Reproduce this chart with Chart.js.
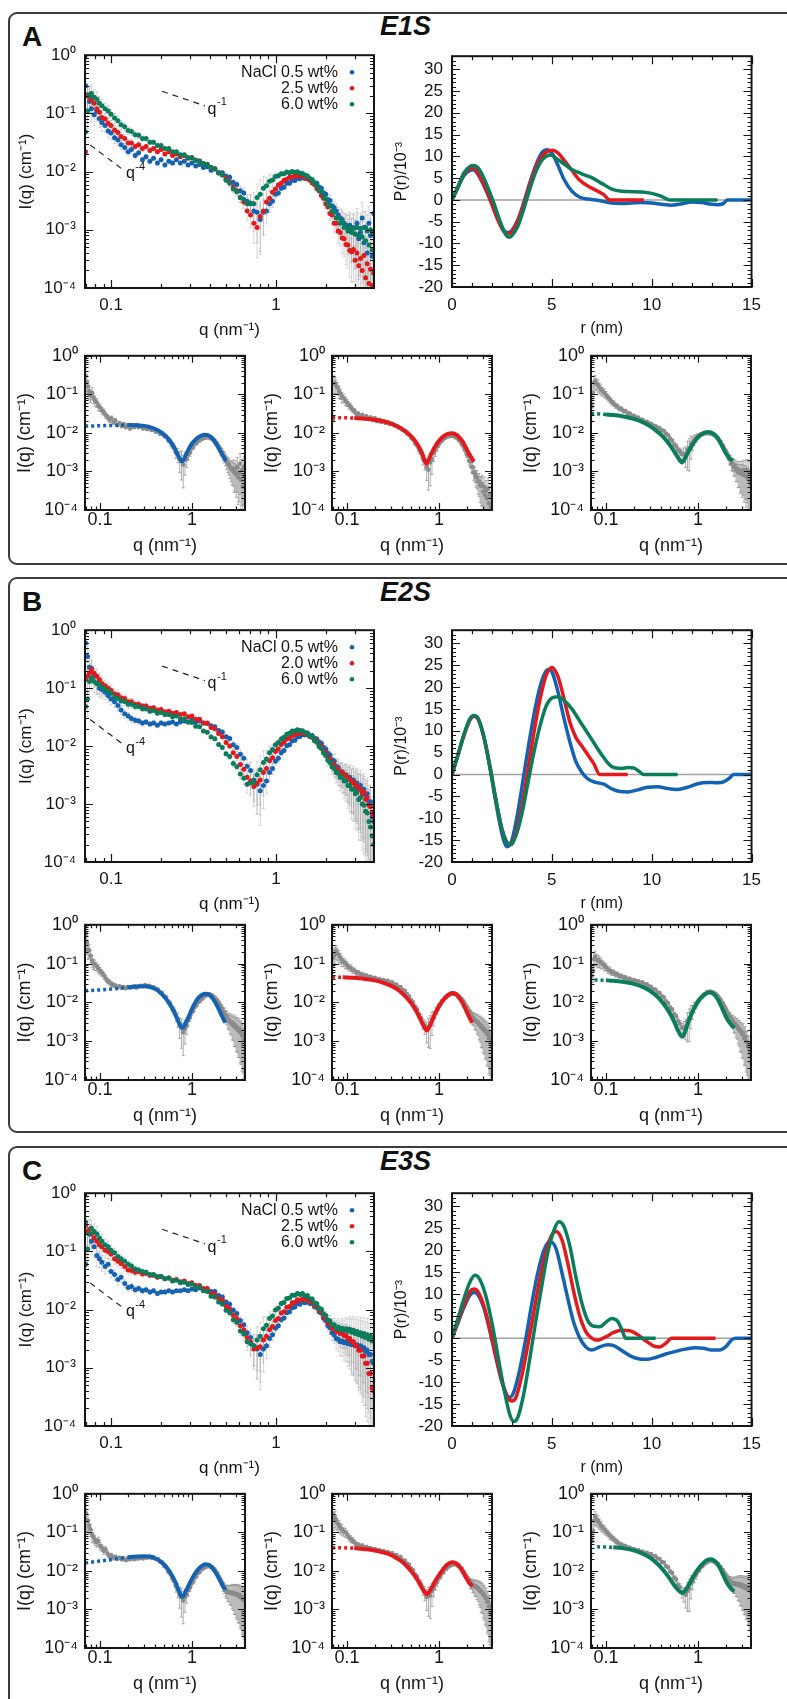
<!DOCTYPE html>
<html>
<head>
<meta charset="utf-8">
<title>SAXS profiles and P(r) of E1S, E2S, E3S</title>
<script src="https://cdn.jsdelivr.net/npm/chart.js@4.4.1/dist/chart.umd.min.js"></script>
<style>
  body { margin: 0; background: #fff; }
  #page { position: relative; width: 787px; height: 1699px; overflow: hidden; font-family: 'Liberation Sans', Arial, sans-serif; color: #111; }
  .panel { position: absolute; left: 8px; width: 800px; border: 2px solid #3c3c3c; border-radius: 9px; box-sizing: border-box; }
  .tag { position: absolute; left: 22px; font-size: 28px; font-weight: bold; line-height: 1; }
  .name { position: absolute; left: 380px; font-size: 27px; font-weight: bold; font-style: italic; line-height: 1; }
  canvas { position: absolute; }
</style>
</head>
<body>
<div id="page">
  <div class="panel" style="top:12px;height:553px"></div>
  <div class="panel" style="top:577px;height:556px"></div>
  <div class="panel" style="top:1146px;height:600px"></div>
  <div class="tag" style="top:23px">A</div>
  <div class="name" style="top:13px">E1S</div>
  <div class="tag" style="top:588px">B</div>
  <div class="name" style="top:579px">E2S</div>
  <div class="tag" style="top:1157px">C</div>
  <div class="name" style="top:1148px">E3S</div>
</div>
<script>
// scattering vector grid shared by all measured curves (nm^-1)
const qGrid = [0.070,0.072,0.074,0.076,0.079,0.082,0.085,0.088,0.092,0.096,
  0.100,0.105,0.110,0.115,0.121,0.127,0.133,0.140,0.147,0.155,
  0.163,0.172,0.181,0.191,0.201,0.212,0.224,0.236,0.249,0.263,
  0.278,0.293,0.309,0.326,0.344,0.363,0.383,0.404,0.426,0.449,
  0.473,0.498,0.524,0.551,0.579,0.608,0.638,0.669,0.701,0.734,
  0.768,0.803,0.839,0.876,0.914,0.953,0.993,1.034,1.076,1.119,
  1.163,1.208,1.254,1.301,1.349,1.398,1.448,1.499,1.551,1.604,
  1.658,1.713,1.769,1.826,1.884,1.943,2.003,2.064,2.126,2.189,
  2.253,2.318,2.384,2.451,2.519,2.588,2.658,2.729,2.801,2.874,
  2.948,3.023,3.099,3.176,3.254,3.333,3.413,3.494,3.576,3.659,
  3.743,3.828,3.914];

// relative error of I(q) at each grid point
const relErr = [0.6,0.5,0.45,0.4,0.35,0.35,0.3,0.3,0.25,0.25,
  0.22,0.2,0.2,0.18,0.16,0.15,0.14,0.13,0.12,0.11,
  0.1,0.09,0.09,0.08,0.08,0.07,0.07,0.07,0.06,0.06,
  0.06,0.06,0.06,0.06,0.06,0.06,0.07,0.07,0.08,0.08,
  0.09,0.1,0.11,0.13,0.15,0.18,0.22,0.3,0.4,0.55,
  0.7,0.75,0.6,0.4,0.3,0.22,0.16,0.12,0.1,0.08,
  0.07,0.06,0.06,0.06,0.06,0.06,0.06,0.06,0.07,0.07,
  0.08,0.09,0.1,0.11,0.13,0.15,0.17,0.2,0.23,0.27,
  0.3,0.34,0.38,0.42,0.46,0.5,0.55,0.6,0.65,0.7,
  0.72,0.75,0.78,0.8,0.82,0.84,0.86,0.88,0.9,0.9,
  0.92,0.93,0.94];

// I(q) in cm^-1, E1S
const iq1S_05 = [0.30,0.21,0.16,0.12,0.095,0.11,0.082,0.07,0.062,0.05,
  0.046,0.038,0.035,0.029,0.026,0.022,0.024,0.019,0.021,0.016,
  0.018,0.015,0.017,0.014,0.016,0.013,0.015,0.014,0.016,0.014,
  0.015,0.013,0.014,0.0125,0.0132,0.0118,0.0121,0.0106,0.0111,0.0095,
  0.0096,0.0083,0.008,0.0065,0.006,0.0047,0.0043,0.0031,0.0028,0.0021,
  0.002,0.0015,0.002,0.0021,0.0028,0.0031,0.0041,0.0043,0.0052,0.0054,
  0.0063,0.0063,0.0071,0.007,0.0077,0.0075,0.008,0.0076,0.0078,0.0072,
  0.0072,0.0064,0.0063,0.0054,0.0052,0.0043,0.0041,0.0033,0.0032,0.0026,
  0.0024,0.0021,0.0018,0.0016,0.0015,0.0013,0.0012,0.0011,0.0012,0.00095,
  0.0011,0.00085,0.0013,0.0007,0.0009,0.0016,0.0006,0.0011,0.0004,0.0013,
  0.0008,0.00035,0.0019];
const iq1S_25 = [0.022,0.20,0.19,0.17,0.15,0.12,0.105,0.085,0.08,0.068,
  0.062,0.052,0.047,0.040,0.037,0.031,0.031,0.027,0.029,0.025,
  0.027,0.023,0.025,0.022,0.024,0.020,0.022,0.019,0.020,0.018,
  0.019,0.017,0.0175,0.0158,0.0152,0.0138,0.0132,0.0118,0.0112,0.0096,
  0.0089,0.0075,0.0067,0.0054,0.0047,0.0036,0.003,0.0021,0.0018,0.0013,
  0.0011,0.0017,0.0021,0.003,0.0035,0.0044,0.005,0.0059,0.0063,0.0071,
  0.0074,0.008,0.0081,0.0085,0.0084,0.0086,0.0082,0.0081,0.0075,0.0072,
  0.0064,0.006,0.0051,0.0047,0.0039,0.0035,0.0028,0.0025,0.0019,0.0018,
  0.0013,0.0013,0.00095,0.0009,0.00072,0.0007,0.00056,0.00055,0.00044,0.00042,
  0.00046,0.0003,0.0004,0.00024,0.00032,0.0002,0.00036,0.00015,0.00026,0.00012,
  0.00021,0.00011,0.00018];
const iq1S_60 = [0.048,0.11,0.20,0.22,0.19,0.175,0.15,0.135,0.12,0.11,
  0.097,0.083,0.075,0.064,0.059,0.051,0.049,0.043,0.042,0.037,
  0.037,0.032,0.032,0.028,0.028,0.025,0.025,0.022,0.022,0.0195,
  0.0195,0.0175,0.0172,0.0155,0.0152,0.0138,0.0132,0.0118,0.0112,0.0096,
  0.0087,0.0071,0.0063,0.005,0.0045,0.0036,0.0033,0.0028,0.0029,0.0028,
  0.0036,0.0041,0.0052,0.0057,0.0068,0.0072,0.0082,0.0085,0.0092,0.0092,
  0.0098,0.0096,0.01,0.0097,0.0099,0.0094,0.0093,0.0087,0.0084,0.0076,
  0.0072,0.0063,0.0058,0.0049,0.0045,0.0037,0.0034,0.0028,0.0026,0.0021,
  0.002,0.0016,0.0016,0.0013,0.0014,0.0011,0.0012,0.00095,0.0011,0.0009,
  0.00105,0.00085,0.0011,0.0008,0.00105,0.00075,0.0011,0.00065,0.00095,0.00055,
  0.001,0.00045,0.0009];

// I(q), E2S
const iq2S_05 = [0.60,0.35,0.23,0.22,0.16,0.12,0.10,0.095,0.085,0.075,
  0.065,0.058,0.05,0.042,0.036,0.033,0.030,0.028,0.027,0.025,
  0.026,0.024,0.025,0.023,0.025,0.024,0.025,0.026,0.024,0.026,
  0.027,0.026,0.028,0.026,0.027,0.025,0.0245,0.0225,0.0215,0.0185,
  0.0175,0.0145,0.0135,0.0105,0.0095,0.0072,0.0062,0.0045,0.0038,0.0026,
  0.0022,0.0017,0.0021,0.0025,0.0035,0.0041,0.0055,0.0062,0.0077,0.0084,
  0.0101,0.0106,0.0123,0.0126,0.0143,0.0146,0.0158,0.0156,0.0163,0.0151,
  0.0153,0.0136,0.0133,0.0116,0.0112,0.0095,0.0089,0.0075,0.007,0.0058,
  0.0055,0.0045,0.0043,0.0036,0.0036,0.0031,0.0032,0.0027,0.0029,0.0024,
  0.0026,0.0022,0.0023,0.0019,0.0021,0.0017,0.0018,0.0014,0.0015,0.0011,
  0.0011,0.0006,0.0005];
const iq2S_20 = [0.14,0.16,0.18,0.21,0.18,0.16,0.14,0.12,0.11,0.10,
  0.092,0.08,0.077,0.068,0.066,0.058,0.058,0.053,0.053,0.049,
  0.049,0.045,0.046,0.042,0.043,0.039,0.04,0.037,0.038,0.035,
  0.036,0.032,0.033,0.029,0.029,0.025,0.025,0.021,0.02,0.0165,
  0.0145,0.0115,0.01,0.0077,0.0066,0.0048,0.004,0.0029,0.0025,0.002,
  0.0023,0.0026,0.0035,0.0041,0.0056,0.0063,0.0081,0.0089,0.0107,0.0116,
  0.0133,0.0136,0.0153,0.0156,0.0168,0.0166,0.0172,0.0163,0.0162,0.0147,
  0.0142,0.0127,0.0122,0.0107,0.0097,0.0083,0.0077,0.0064,0.0059,0.005,
  0.0047,0.0041,0.004,0.0035,0.0035,0.0031,0.0031,0.0027,0.0027,0.0023,
  0.0024,0.002,0.0021,0.0018,0.0018,0.0015,0.0016,0.0012,0.0013,0.00095,
  0.0009,0.0007,0.0006];
const iq2S_60 = [0.048,0.065,0.13,0.15,0.13,0.12,0.115,0.105,0.097,0.088,
  0.082,0.07,0.067,0.06,0.059,0.053,0.053,0.048,0.048,0.044,
  0.044,0.04,0.041,0.037,0.038,0.035,0.035,0.032,0.033,0.029,
  0.0295,0.026,0.0255,0.022,0.0215,0.0182,0.0174,0.0144,0.0134,0.0107,
  0.0095,0.0074,0.0066,0.005,0.0044,0.0033,0.0028,0.0022,0.0023,0.0024,
  0.0032,0.0039,0.0052,0.006,0.0077,0.0087,0.0105,0.0115,0.0133,0.0142,
  0.016,0.0167,0.0182,0.0182,0.0192,0.0185,0.0184,0.0172,0.0168,0.015,
  0.0143,0.0124,0.0116,0.0098,0.0091,0.0076,0.0069,0.0057,0.0052,0.0044,
  0.0041,0.0035,0.0034,0.0029,0.0029,0.0025,0.0025,0.0021,0.0021,0.0018,
  0.0018,0.0015,0.0016,0.0012,0.0013,0.001,0.00095,0.00075,0.0007,0.0005,
  0.0004,0.00028,0.0002];

// I(q), E3S
const iq3S_05 = [0.32,0.21,0.2,0.15,0.12,0.085,0.075,0.065,0.055,0.06,
  0.045,0.04,0.033,0.036,0.028,0.024,0.025,0.022,0.023,0.021,
  0.022,0.02,0.021,0.019,0.02,0.02,0.021,0.02,0.021,0.021,
  0.022,0.021,0.0225,0.022,0.0235,0.0215,0.0225,0.0205,0.0205,0.0175,
  0.0165,0.0135,0.0124,0.0097,0.0086,0.0065,0.0055,0.004,0.0033,0.0024,
  0.0021,0.0017,0.0021,0.0024,0.0032,0.0037,0.0048,0.0053,0.0067,0.0072,
  0.0088,0.0092,0.0108,0.0111,0.0126,0.0124,0.0136,0.0131,0.0138,0.0127,
  0.0127,0.0112,0.0109,0.0092,0.0087,0.0071,0.0065,0.0053,0.0049,0.004,
  0.0037,0.0032,0.0031,0.0028,0.0029,0.0027,0.0028,0.0026,0.0027,0.0025,
  0.0026,0.0024,0.0025,0.0023,0.0024,0.0021,0.0022,0.0019,0.002,0.0017,
  0.0017,0.0013,0.0012];
const iq3S_25 = [0.28,0.22,0.24,0.2,0.17,0.15,0.13,0.12,0.105,0.1,
  0.09,0.075,0.068,0.062,0.055,0.048,0.047,0.044,0.045,0.041,
  0.042,0.039,0.039,0.036,0.037,0.034,0.035,0.032,0.033,0.03,
  0.031,0.028,0.029,0.026,0.026,0.023,0.023,0.019,0.0185,0.0155,
  0.0145,0.0115,0.0103,0.008,0.007,0.0053,0.0045,0.0033,0.0028,0.0021,
  0.0022,0.0023,0.003,0.0035,0.0045,0.0051,0.0065,0.007,0.0087,0.0092,
  0.011,0.0113,0.0131,0.0132,0.0147,0.0145,0.0154,0.0147,0.0151,0.0137,
  0.0137,0.0119,0.0116,0.0097,0.0092,0.0075,0.0071,0.0059,0.0057,0.0048,
  0.0048,0.0042,0.0043,0.0039,0.004,0.0036,0.0036,0.0032,0.0032,0.0028,
  0.0028,0.0024,0.0024,0.002,0.002,0.0016,0.0016,0.0012,0.0012,0.0008,
  0.0008,0.00045,0.0004];
const iq3S_60 = [0.06,0.11,0.2,0.25,0.22,0.2,0.17,0.15,0.13,0.12,
  0.105,0.095,0.082,0.075,0.068,0.06,0.056,0.05,0.048,0.045,
  0.044,0.04,0.04,0.037,0.037,0.034,0.035,0.031,0.032,0.029,
  0.0295,0.027,0.0275,0.024,0.0245,0.021,0.0205,0.017,0.0165,0.0135,
  0.0125,0.0097,0.0088,0.0067,0.006,0.0043,0.0038,0.0028,0.0026,0.0024,
  0.003,0.0035,0.0047,0.0054,0.007,0.0078,0.0098,0.0105,0.0127,0.0133,
  0.0155,0.0158,0.0177,0.0176,0.019,0.0182,0.0189,0.0172,0.0174,0.0154,
  0.0152,0.013,0.0126,0.0106,0.0101,0.0084,0.0079,0.0066,0.0064,0.0055,
  0.0055,0.0048,0.005,0.0045,0.0048,0.0044,0.0047,0.0043,0.0046,0.0041,
  0.0044,0.0039,0.0042,0.0037,0.004,0.0035,0.0039,0.0033,0.0037,0.0031,
  0.0035,0.0029,0.0032];

const legend1S = ['NaCl 0.5 wt%', '2.5 wt%', '6.0 wt%'];
const legend2S = ['NaCl 0.5 wt%', '2.0 wt%', '6.0 wt%'];
const legend3S = ['NaCl 0.5 wt%', '2.5 wt%', '6.0 wt%'];

// power-law guide lines [q, I]
const guideQ1 = [0.204, 0.371], guideI1 = [0.24, 0.135];
const guideQ4 = [0.0746, 0.117], guideI4 = [0.0288, 0.011];
const labelAt1 = [0.385, 0.118], labelAt4 = [0.123, 0.0091];

// model fits [q, I]; below the threshold q the fit is dotted
const fit1S_05 = [[0.069,0.015],[0.09,0.0152],[0.12,0.0155],[0.16,0.0158],[0.2,0.016],[0.25,0.0159],[0.3,0.0152],[0.35,0.0141],[0.4,0.0126],[0.45,0.0108],[0.5,0.0089],[0.55,0.0071],[0.6,0.0054],[0.65,0.0039],[0.7,0.0027],[0.74,0.0021],[0.77,0.0018],[0.81,0.002],[0.86,0.0027],[0.92,0.0038],[1.0,0.0053],[1.1,0.0068],[1.2,0.008],[1.3,0.0088],[1.4,0.009],[1.5,0.0087],[1.6,0.0079],[1.7,0.0068],[1.8,0.0056],[1.9,0.0045],[2.0,0.0036],[2.1,0.0029],[2.2,0.0024],[2.3,0.002],[2.37,0.0019]];
const fit1S_25 = [[0.069,0.025],[0.09,0.0248],[0.12,0.0243],[0.15,0.0235],[0.2,0.022],[0.25,0.02],[0.3,0.0175],[0.35,0.015],[0.4,0.0125],[0.45,0.0102],[0.5,0.0081],[0.55,0.0062],[0.6,0.0045],[0.65,0.0031],[0.69,0.0021],[0.73,0.0016],[0.77,0.002],[0.82,0.0028],[0.88,0.0039],[0.95,0.0053],[1.0,0.0062],[1.1,0.0079],[1.2,0.0091],[1.3,0.0097],[1.4,0.0098],[1.5,0.0093],[1.6,0.0084],[1.7,0.0072],[1.8,0.006],[1.9,0.0048],[2.0,0.0038],[2.1,0.003],[2.2,0.0025],[2.3,0.0021],[2.4,0.0018]];
const fit1S_60 = [[0.069,0.032],[0.085,0.031],[0.1,0.030],[0.12,0.029],[0.15,0.027],[0.2,0.023],[0.25,0.019],[0.3,0.015],[0.35,0.0115],[0.4,0.0088],[0.45,0.0065],[0.5,0.0047],[0.55,0.0033],[0.6,0.0024],[0.64,0.0019],[0.67,0.0017],[0.7,0.0019],[0.75,0.0026],[0.8,0.0035],[0.9,0.0056],[1.0,0.0077],[1.1,0.0093],[1.2,0.0103],[1.3,0.0106],[1.4,0.0102],[1.5,0.0092],[1.6,0.0078],[1.7,0.0063],[1.8,0.0049],[1.9,0.0038],[2.0,0.003],[2.2,0.0022],[2.4,0.0019]];
const fit2S_05 = [[0.069,0.020],[0.1,0.021],[0.13,0.022],[0.16,0.023],[0.2,0.0245],[0.25,0.0258],[0.3,0.026],[0.35,0.025],[0.4,0.022],[0.45,0.018],[0.5,0.014],[0.55,0.0105],[0.6,0.0075],[0.65,0.0052],[0.7,0.0035],[0.75,0.0025],[0.79,0.0022],[0.83,0.0026],[0.9,0.0038],[1.0,0.0068],[1.1,0.0105],[1.2,0.0138],[1.3,0.016],[1.4,0.0168],[1.5,0.0163],[1.6,0.0145],[1.7,0.0122],[1.8,0.0098],[1.9,0.0077],[2.0,0.006],[2.1,0.0046],[2.2,0.0037],[2.3,0.003]];
const fit2S_20 = [[0.069,0.045],[0.09,0.0445],[0.12,0.043],[0.15,0.041],[0.2,0.037],[0.25,0.032],[0.3,0.027],[0.35,0.022],[0.4,0.017],[0.45,0.0128],[0.5,0.0094],[0.55,0.0067],[0.6,0.0046],[0.65,0.0031],[0.7,0.0022],[0.74,0.0019],[0.78,0.0023],[0.85,0.0036],[0.9,0.0049],[1.0,0.0078],[1.1,0.0111],[1.2,0.0142],[1.3,0.0165],[1.4,0.0175],[1.5,0.0168],[1.6,0.0148],[1.7,0.0122],[1.8,0.0097],[1.9,0.0075],[2.0,0.0058],[2.1,0.0045],[2.2,0.0036],[2.3,0.003]];
const fit2S_60 = [[0.075,0.038],[0.09,0.0375],[0.1,0.037],[0.12,0.036],[0.15,0.034],[0.2,0.03],[0.25,0.025],[0.3,0.02],[0.35,0.015],[0.4,0.0108],[0.45,0.0075],[0.5,0.005],[0.55,0.0032],[0.6,0.002],[0.65,0.0014],[0.68,0.0013],[0.72,0.0017],[0.8,0.0035],[0.9,0.0068],[1.0,0.0105],[1.1,0.0138],[1.2,0.0165],[1.3,0.018],[1.4,0.0178],[1.5,0.016],[1.6,0.0133],[1.7,0.0104],[1.8,0.0078],[1.9,0.0058],[2.0,0.0044],[2.2,0.003],[2.4,0.0024],[2.5,0.0022]];
const fit3S_05 = [[0.069,0.016],[0.1,0.018],[0.13,0.0195],[0.16,0.021],[0.2,0.0225],[0.25,0.0235],[0.3,0.024],[0.35,0.0235],[0.4,0.021],[0.45,0.018],[0.5,0.0145],[0.55,0.011],[0.6,0.008],[0.65,0.0055],[0.7,0.0036],[0.75,0.0024],[0.78,0.0021],[0.82,0.0024],[0.9,0.0038],[1.0,0.0063],[1.1,0.0092],[1.2,0.0118],[1.3,0.0138],[1.4,0.0148],[1.5,0.0145],[1.6,0.0132],[1.7,0.0112],[1.8,0.0092],[1.9,0.0074],[2.0,0.0059],[2.1,0.0047],[2.2,0.0038],[2.3,0.0032]];
const fit3S_25 = [[0.069,0.04],[0.09,0.0398],[0.12,0.039],[0.15,0.037],[0.2,0.034],[0.25,0.03],[0.3,0.026],[0.35,0.021],[0.4,0.017],[0.45,0.013],[0.5,0.0098],[0.55,0.0072],[0.6,0.0052],[0.65,0.0037],[0.7,0.0028],[0.73,0.0025],[0.77,0.0027],[0.85,0.004],[0.9,0.0052],[1.0,0.0078],[1.1,0.0108],[1.2,0.0138],[1.3,0.016],[1.4,0.0168],[1.5,0.0162],[1.6,0.0145],[1.7,0.0122],[1.8,0.0098],[1.9,0.0078],[2.0,0.0063],[2.1,0.0052],[2.2,0.0045],[2.3,0.004]];
const fit3S_60 = [[0.08,0.042],[0.1,0.0415],[0.12,0.041],[0.15,0.039],[0.2,0.034],[0.25,0.028],[0.3,0.022],[0.35,0.0165],[0.4,0.012],[0.45,0.0085],[0.5,0.006],[0.55,0.0043],[0.6,0.0033],[0.65,0.0028],[0.68,0.0027],[0.72,0.003],[0.8,0.0045],[0.9,0.0075],[1.0,0.011],[1.1,0.0145],[1.2,0.0178],[1.3,0.0198],[1.4,0.02],[1.5,0.0185],[1.6,0.0158],[1.7,0.0128],[1.8,0.0098],[1.9,0.0074],[2.0,0.0057],[2.1,0.0046],[2.2,0.0039],[2.3,0.0034],[2.4,0.0031],[2.5,0.003]];
const dots1S = [0.2, 0.12, 0.1];
const dots2S = [0.2, 0.09, 0.1];
const dots3S = [0.2, 0.12, 0.12];

// pair distance distribution functions, r in nm, P(r) in 10^-3
const pr1S_05_r = [0,0.3,0.6,0.9,1.05,1.2,1.5,1.8,2.0,2.3,2.6,2.8,3.0,3.3,3.6,3.9,4.2,4.5,4.75,5.0,5.3,5.6,6.0,6.4,6.8,7.3,8.0,8.5,9.0,9.5,10,10.5,11,11.5,12,12.5,13,13.3,13.6,13.8,14.2,15];
const pr1S_05_p = [0,2.8,5.6,6.8,6.9,6.5,4.2,1.2,-1,-4.5,-7,-7.5,-7,-4.5,-0.5,4,8,10.8,11.5,10.8,8,4.8,2,0.6,0.2,-0.1,-0.7,-0.8,-0.7,-0.6,-0.7,-1,-1.2,-0.9,-0.5,-0.6,-1,-1.1,-0.8,0,0,0];
const pr1S_25_r = [0,0.3,0.6,0.9,1.05,1.2,1.5,1.8,2.0,2.3,2.6,2.8,3.0,3.3,3.6,3.9,4.2,4.5,4.8,5.05,5.3,5.6,6.0,6.4,6.8,7.2,7.6,7.9,8.3,9.0,9.6];
const pr1S_25_p = [0,3,6,7.2,7.3,6.9,4.5,1.4,-1,-4.6,-7.3,-7.8,-7.3,-4.8,-1,3.5,7.5,10,11.2,11.4,10.8,9.2,6.8,4.5,3.2,2.2,1.2,0,0,0,0];
const pr1S_60_r = [0,0.3,0.6,0.9,1.1,1.3,1.6,1.9,2.1,2.4,2.7,2.85,3.0,3.3,3.6,3.9,4.2,4.5,4.8,4.95,5.2,5.6,6.0,6.5,7.0,7.5,8.0,8.5,9.0,9.5,10,10.5,10.9,11.5,12.5,13.3];
const pr1S_60_p = [0,3,6.2,7.7,7.9,7.4,5,1.6,-0.8,-4.8,-8,-8.6,-8.2,-6,-2,2.5,6.5,9.1,10.2,10.3,9.6,8.3,7,6,5.1,3.8,2.5,2,1.9,1.8,1.5,0.8,0,0,0,0];
const pr2S_05_r = [0,0.3,0.6,0.9,1.1,1.3,1.6,1.9,2.2,2.5,2.75,3.0,3.3,3.6,3.9,4.2,4.5,4.8,5.0,5.3,5.6,5.9,6.2,6.5,6.8,7.2,7.6,8.0,8.4,8.8,9.3,9.8,10.3,10.8,11.3,11.8,12.3,12.8,13.3,13.6,13.9,14.1,15];
const pr2S_05_p = [0,4.5,9,12.6,13.4,12.8,8.5,1.5,-6.5,-13.5,-16.5,-15,-8.5,0,8.5,16,21.5,24,23.5,19,13,7.5,3,0.5,-1,-1.8,-2.2,-3.3,-3.9,-4,-3.5,-2.9,-2.8,-3.2,-3.4,-2.9,-2.1,-1.8,-1.9,-1.7,-0.8,0,0];
const pr2S_20_r = [0,0.3,0.6,0.9,1.1,1.3,1.6,1.9,2.2,2.5,2.8,2.95,3.2,3.5,3.8,4.1,4.4,4.7,5.0,5.3,5.6,5.9,6.2,6.5,6.8,7.1,7.4,8.0,8.8];
const pr2S_20_p = [0,4.5,9,12.5,13.3,12.7,8.5,1.8,-5.8,-12.5,-15.8,-16,-13.5,-7.5,1,9.5,17,22.5,24.5,22.5,17.5,12,8.5,6.5,4.5,2.5,0,0,0];
const pr2S_60_r = [0,0.3,0.6,0.9,1.1,1.3,1.6,1.9,2.2,2.5,2.8,2.95,3.2,3.5,3.8,4.1,4.4,4.7,5.0,5.3,5.6,6.0,6.5,7.0,7.5,8.0,8.5,8.8,9.1,9.4,9.6,10.5,11.3];
const pr2S_60_p = [0,4.5,9.2,12.8,13.5,12.9,8.6,1.8,-5.8,-12.4,-15.8,-16,-14,-9,-2,5,11,15.5,17.5,17.8,17,15,11.5,8,4.5,1.8,1.4,1.6,1.5,0.6,0,0,0];
const pr3S_05_r = [0,0.3,0.6,0.9,1.1,1.3,1.6,1.9,2.2,2.5,2.75,2.9,3.1,3.4,3.7,4.0,4.3,4.6,4.9,5.2,5.5,5.8,6.1,6.4,6.7,7.0,7.4,7.8,8.1,8.5,9.0,9.5,9.8,10.2,10.7,11.2,11.7,12.2,12.6,13.0,13.4,13.7,14.0,14.2,15];
const pr3S_05_p = [0,3.5,7,9.8,10.4,9.9,6.8,1.5,-4.5,-10,-13,-13.5,-12.2,-7,0,8,15,20,22,20.5,15,9,3.5,0,-2,-2.7,-2,-1.5,-1.7,-2.8,-4.2,-4.8,-4.8,-4.4,-3.6,-3,-2.5,-2.2,-2.3,-2.7,-2.7,-2,-0.4,0,0];
const pr3S_25_r = [0,0.3,0.6,0.9,1.1,1.3,1.6,1.9,2.2,2.5,2.8,3.0,3.2,3.5,3.8,4.1,4.4,4.7,5.0,5.2,5.5,5.8,6.1,6.4,6.7,7.0,7.3,7.7,8.1,8.5,8.9,9.3,9.7,10.1,10.4,10.7,11.0,12.0,13.2];
const pr3S_25_p = [0,3.8,7.6,10.6,11.2,10.6,7.3,2,-4,-9.8,-13.6,-14.3,-13.5,-8.5,-1.5,6,13.5,19.5,23.5,24.3,22.5,17,10.5,5,1.5,0,-0.5,0.3,1.3,1.8,1.7,0.8,-0.6,-1.8,-2,-1.2,0,0,0];
const pr3S_60_r = [0,0.3,0.6,0.9,1.15,1.4,1.7,2.0,2.3,2.6,2.9,3.1,3.3,3.6,3.9,4.2,4.5,4.8,5.1,5.35,5.6,5.9,6.2,6.5,6.8,7.1,7.4,7.7,8.0,8.3,8.5,8.7,9.5,10.2];
const pr3S_60_p = [0,4.5,9,12.8,14.3,13.3,9.5,3.5,-4,-11.5,-17.5,-19,-18,-12.5,-4.5,4,12,19.5,24.5,26.5,25.5,21,14,8,4,2.7,2.6,3.6,4.5,3.8,2,0,0,0];
const zeroR = [0, 15], zeroP = [0, 0];

// axis ticks
const qMajor = [0.1, 1];
const qMinor = [0.07, 0.08, 0.09, 0.2, 0.3, 0.4, 0.5, 0.6, 0.7, 0.8, 0.9, 2, 3];
const iMajor = [1e-4, 1e-3, 1e-2, 1e-1, 1];
const iMinor = [];
for (const d of [1e-4, 1e-3, 1e-2, 1e-1]) for (let k = 2; k <= 9; k++) iMinor.push(k * d);
const rMajor = [0, 5, 10, 15];
const rMinor = [1, 2, 3, 4, 6, 7, 8, 9, 11, 12, 13, 14];
const pMajor = [-20, -15, -10, -5, 0, 5, 10, 15, 20, 25, 30];
const pMinor = [];
for (let v = -19; v <= 33; v++) if (v % 5 !== 0) pMinor.push(v);

const FONT = "'Liberation Sans', Arial, Helvetica, sans-serif";
const BLUE = '#1463b3', RED = '#e3191c', GREEN = '#0a7e5c', GRAY = '#8b8b8b';
Chart.defaults.font.family = FONT;
Chart.defaults.color = '#151515';
Chart.defaults.animation = false;
Chart.defaults.events = [];
Chart.defaults.plugins.legend.display = false;
Chart.defaults.plugins.tooltip.enabled = false;

const page = document.getElementById('page');
const zip = (xs, ys) => xs.map((x, i) => ({ x, y: ys[i] }));
const pairs = arr => arr.map(([x, y]) => ({ x, y }));
const SUP = { '-': '⁻', '0': '⁰', '1': '¹', '2': '²', '3': '³', '4': '⁴' };
const decade = v => '10' + String(Math.round(Math.log10(v))).split('').map(c => SUP[c]).join('');

// gray error bars behind the points
const errPlugin = {
  id: 'errbars',
  beforeDatasetsDraw(chart) {
    const { ctx, chartArea: a, scales: { y } } = chart;
    ctx.save();
    ctx.beginPath();
    ctx.rect(a.left, a.top, a.right - a.left, a.bottom - a.top);
    ctx.clip();
    chart.data.datasets.forEach((ds, di) => {
      if (!ds.relErr) return;
      const meta = chart.getDatasetMeta(di);
      ctx.strokeStyle = ds.errColor;
      ctx.lineWidth = 1;
      ctx.beginPath();
      meta.data.forEach((pt, i) => {
        const v = ds.data[i].y, e = ds.relErr[i];
        const y0 = y.getPixelForValue(v * (1 - e)), y1 = y.getPixelForValue(v * (1 + e));
        ctx.moveTo(pt.x, y0); ctx.lineTo(pt.x, y1);
        ctx.moveTo(pt.x - 1.5, y0); ctx.lineTo(pt.x + 1.5, y0);
        ctx.moveTo(pt.x - 1.5, y1); ctx.lineTo(pt.x + 1.5, y1);
      });
      ctx.stroke();
    });
    ctx.restore();
  }
};

// gnuplot style box with inward ticks on all four sides
const framePlugin = {
  id: 'frame',
  afterDraw(chart, args, o) {
    const { ctx, chartArea: a, scales: { x, y } } = chart;
    ctx.save();
    ctx.strokeStyle = '#151515';
    ctx.lineWidth = 1.2;
    ctx.beginPath();
    const vt = (v, len) => {
      const p = Math.round(x.getPixelForValue(v)) + 0.5;
      ctx.moveTo(p, a.bottom); ctx.lineTo(p, a.bottom - len);
      ctx.moveTo(p, a.top); ctx.lineTo(p, a.top + len);
    };
    const ht = (v, len) => {
      const p = Math.round(y.getPixelForValue(v)) + 0.5;
      ctx.moveTo(a.left, p); ctx.lineTo(a.left + len, p);
      ctx.moveTo(a.right, p); ctx.lineTo(a.right - len, p);
    };
    o.xMajor.forEach(v => vt(v, o.major));
    o.xMinor.forEach(v => vt(v, o.minor));
    o.yMajor.forEach(v => ht(v, o.major));
    o.yMinor.forEach(v => ht(v, o.minor));
    ctx.stroke();
    ctx.lineWidth = 2;
    ctx.strokeRect(a.left, a.top, a.right - a.left, a.bottom - a.top);
    ctx.restore();
  }
};

// legend rows (text then dot) and the q^-n labels
const notesPlugin = {
  id: 'notes',
  afterDatasetsDraw(chart, args, o) {
    if (!o.rows) return;
    const { ctx, chartArea: a, scales: { x, y } } = chart;
    ctx.save();
    ctx.textBaseline = 'middle';
    o.rows.forEach((row, i) => {
      const ty = a.top + 17 + i * 16;
      ctx.font = '16px ' + FONT;
      ctx.textAlign = 'right';
      ctx.fillStyle = '#151515';
      ctx.fillText(row.text, a.right - 36, ty);
      ctx.fillStyle = row.color;
      ctx.beginPath();
      ctx.arc(a.right - 22, ty, 2.3, 0, Math.PI * 2);
      ctx.fill();
    });
    o.labels.forEach(t => {
      const px = x.getPixelForValue(t.at[0]), py = y.getPixelForValue(t.at[1]);
      ctx.textAlign = 'left';
      ctx.fillStyle = '#151515';
      ctx.font = '16px ' + FONT;
      ctx.fillText('q', px, py);
      const w = ctx.measureText('q').width;
      ctx.font = '11px ' + FONT;
      ctx.fillText(t.exp, px + w + 0.5, py - 7);
    });
    ctx.restore();
  }
};

function mount(f, m) {
  const cv = document.createElement('canvas');
  const w = f.r - f.l + m.l + m.r, h = f.b - f.t + m.t + m.b;
  cv.width = w; cv.height = h;
  cv.style.left = (f.l - m.l) + 'px';
  cv.style.top = (f.t - m.t) + 'px';
  cv.style.width = w + 'px';
  cv.style.height = h + 'px';
  page.appendChild(cv);
  return cv;
}

function axis(o) {
  return {
    type: o.type, min: o.min, max: o.max,
    afterBuildTicks: s => { s.ticks = o.ticks.map(v => ({ value: v })); },
    afterFit: s => { if (o.horizontal) s.height = o.size; else s.width = o.size; },
    grid: { display: false, drawTicks: false },
    border: { display: false },
    ticks: { autoSkip: false, maxRotation: 0, padding: o.pad, font: { size: o.font }, callback: o.label },
    title: { display: true, text: o.title, padding: 0, font: { size: o.titleFont } }
  };
}

function drawMain(f, sets, legend) {
  const m = { l: 69, t: 14, r: 16, b: 53 };
  const dots = (vals, color, order) => ({
    data: zip(qGrid, vals), backgroundColor: color, borderWidth: 0, pointRadius: 2.5,
    order, relErr, errColor: 'rgba(165,165,165,0.45)', clip: 0
  });
  const guide = (qs, is) => ({
    data: zip(qs, is), showLine: true, borderColor: '#222', borderWidth: 1.2,
    borderDash: [6, 5], pointRadius: 0, order: -1
  });
  new Chart(mount(f, m), {
    type: 'scatter',
    data: { datasets: [guide(guideQ1, guideI1), guide(guideQ4, guideI4),
      dots(sets[2], GREEN, 0), dots(sets[1], RED, 1), dots(sets[0], BLUE, 2)] },
    options: {
      responsive: false,
      layout: { padding: { left: 0, top: m.t, right: m.r, bottom: 0 } },
      scales: {
        x: axis({ type: 'logarithmic', min: 0.0695, max: 3.93, ticks: qMajor, horizontal: true, size: m.b, pad: 7, font: 17, label: v => String(v), title: 'q (nm⁻¹)', titleFont: 17 }),
        y: axis({ type: 'logarithmic', min: 1e-4, max: 1, ticks: iMajor, size: m.l, pad: 9, font: 17, label: decade, title: 'I(q) (cm⁻¹)', titleFont: 17 })
      },
      plugins: {
        frame: { xMajor: qMajor, xMinor: qMinor, yMajor: iMajor, yMinor: iMinor, major: 8, minor: 4 },
        notes: {
          rows: legend.map((t, i) => ({ text: t, color: [BLUE, RED, GREEN][i] })),
          labels: [{ at: labelAt1, exp: '-1' }, { at: labelAt4, exp: '-4' }]
        }
      }
    },
    plugins: [errPlugin, framePlugin, notesPlugin]
  });
}

function drawPr(f, curves) {
  const m = { l: 60, t: 14, r: 16, b: 51 };
  const line = (r, p, color, order) => ({
    data: zip(r, p), showLine: true, borderColor: color, borderWidth: 3.5,
    pointRadius: 0, cubicInterpolationMode: 'monotone', order
  });
  new Chart(mount(f, m), {
    type: 'scatter',
    data: { datasets: [
      line(curves[2][0], curves[2][1], GREEN, 0),
      line(curves[1][0], curves[1][1], RED, 1),
      line(curves[0][0], curves[0][1], BLUE, 2),
      { data: zip(zeroR, zeroP), showLine: true, borderColor: '#a0a0a0', borderWidth: 1.5, pointRadius: 0, order: 9 }
    ] },
    options: {
      responsive: false,
      layout: { padding: { left: 0, top: m.t, right: m.r, bottom: 0 } },
      scales: {
        x: axis({ type: 'linear', min: 0, max: 15, ticks: rMajor, horizontal: true, size: m.b, pad: 8, font: 17, label: v => String(v), title: 'r (nm)', titleFont: 16 }),
        y: axis({ type: 'linear', min: -20, max: 33, ticks: pMajor, size: m.l, pad: 9, font: 17, label: v => String(v), title: 'P(r)/10⁻³', titleFont: 16 })
      },
      plugins: { frame: { xMajor: rMajor, xMinor: rMinor, yMajor: pMajor, yMinor: pMinor, major: 8, minor: 4 } }
    },
    plugins: [framePlugin]
  });
}

function drawSmall(f, vals, fit, qDot, color) {
  const m = { l: 71, t: 14, r: 16, b: 47 };
  const pts = pairs(fit);
  new Chart(mount(f, m), {
    type: 'scatter',
    data: { datasets: [
      { data: pts.filter(p => p.x >= qDot), showLine: true, borderColor: color, borderWidth: 4, pointRadius: 0, cubicInterpolationMode: 'monotone', order: 0 },
      { data: pts.filter(p => p.x <= qDot), showLine: true, borderColor: color, borderWidth: 3.5, borderDash: [3, 3], pointRadius: 0, order: 1 },
      { data: zip(qGrid, vals), backgroundColor: GRAY, borderWidth: 0, pointRadius: 2.2, relErr, errColor: 'rgba(140,140,140,0.7)', order: 2, clip: 0 }
    ] },
    options: {
      responsive: false,
      layout: { padding: { left: 0, top: m.t, right: m.r, bottom: 0 } },
      scales: {
        x: axis({ type: 'logarithmic', min: 0.0687, max: 3.77, ticks: qMajor, horizontal: true, size: m.b, pad: -1, font: 18, label: v => String(v), title: 'q (nm⁻¹)', titleFont: 18 }),
        y: axis({ type: 'logarithmic', min: 1e-4, max: 1, ticks: iMajor, size: m.l, pad: 7, font: 18, label: decade, title: 'I(q) (cm⁻¹)', titleFont: 18 })
      },
      plugins: { frame: { xMajor: qMajor, xMinor: qMinor, yMajor: iMajor, yMinor: iMinor, major: 7, minor: 3.5 } }
    },
    plugins: [errPlugin, framePlugin]
  });
}

const smallLeft = [85, 332, 591];
const colors = [BLUE, RED, GREEN];
const panels = [
  { mainBox: { t: 50, b: 288 }, prBox: { t: 51, b: 287 }, smallBox: { t: 352, b: 510 },
    iq: [iq1S_05, iq1S_25, iq1S_60], legend: legend1S,
    pr: [[pr1S_05_r, pr1S_05_p], [pr1S_25_r, pr1S_25_p], [pr1S_60_r, pr1S_60_p]],
    fits: [fit1S_05, fit1S_25, fit1S_60], dots: dots1S },
  { mainBox: { t: 625, b: 862 }, prBox: { t: 625, b: 862 }, smallBox: { t: 921, b: 1080 },
    iq: [iq2S_05, iq2S_20, iq2S_60], legend: legend2S,
    pr: [[pr2S_05_r, pr2S_05_p], [pr2S_20_r, pr2S_20_p], [pr2S_60_r, pr2S_60_p]],
    fits: [fit2S_05, fit2S_20, fit2S_60], dots: dots2S },
  { mainBox: { t: 1188, b: 1426 }, prBox: { t: 1188, b: 1426 }, smallBox: { t: 1490, b: 1648 },
    iq: [iq3S_05, iq3S_25, iq3S_60], legend: legend3S,
    pr: [[pr3S_05_r, pr3S_05_p], [pr3S_25_r, pr3S_25_p], [pr3S_60_r, pr3S_60_p]],
    fits: [fit3S_05, fit3S_25, fit3S_60], dots: dots3S }
];

panels.forEach(p => {
  drawMain({ l: 85, r: 374, t: p.mainBox.t, b: p.mainBox.b }, p.iq, p.legend);
  drawPr({ l: 452, r: 753, t: p.prBox.t, b: p.prBox.b }, p.pr);
  smallLeft.forEach((l, k) => {
    drawSmall({ l, r: l + 160, t: p.smallBox.t, b: p.smallBox.b }, p.iq[k], p.fits[k], p.dots[k], colors[k]);
  });
});
</script>
</body>
</html>
